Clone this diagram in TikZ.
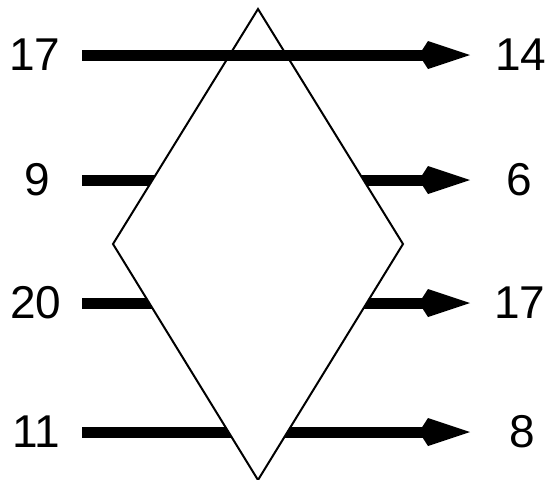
\documentclass[tikz,border=0pt]{standalone}
\usepackage{fontspec}
\setmainfont{Liberation Sans}
\usetikzlibrary{arrows.meta}
\begin{document}
\begin{tikzpicture}[x=1pt,y=-1pt,
  flow/.style={line width=11pt,-{Kite[length=51pt,width=28pt,inset=9pt,line width=0pt]}},
  rhomb/.style={draw=black,fill=white,line width=2pt,line join=miter},
  num/.style={font=\fontsize{46}{50}\selectfont,inner sep=0pt,anchor=center}]
\useasboundingbox (0,0) rectangle (550,480);
% labels
\node[num] (l1) at (35,55) {17};
\node[num] (l2) at (37,180) {9};
\node[num] (l3) at (36,303) {20};
\node[num] (l4) at (36,432) {11};
\node[num] (r1) at (521,55) {14};
\node[num] (r2) at (519,180) {6};
\node[num] (r3) at (520,303) {17};
\node[num] (r4) at (522,432) {8};
% arrow end points
\coordinate (a1) at (82,55);  \coordinate (b1) at (470,55);
\coordinate (a2) at (82,180); \coordinate (b2) at (470,180);
\coordinate (a3) at (82,303); \coordinate (b3) at (470,303);
\coordinate (a4) at (82,432); \coordinate (b4) at (470,432);
% arrows behind the diamond
\draw[flow] (a2) -- (b2);
\draw[flow] (a3) -- (b3);
\draw[flow] (a4) -- (b4);
% diamond
\coordinate (dt) at (258,9);
\coordinate (dl) at (113,244);
\coordinate (db) at (258,480);
\coordinate (dr) at (403,244);
\draw[rhomb] (dt) -- (dl) -- (db) -- (dr) -- cycle;
% arrow in front
\draw[flow] (a1) -- (b1);
\end{tikzpicture}
\end{document}
